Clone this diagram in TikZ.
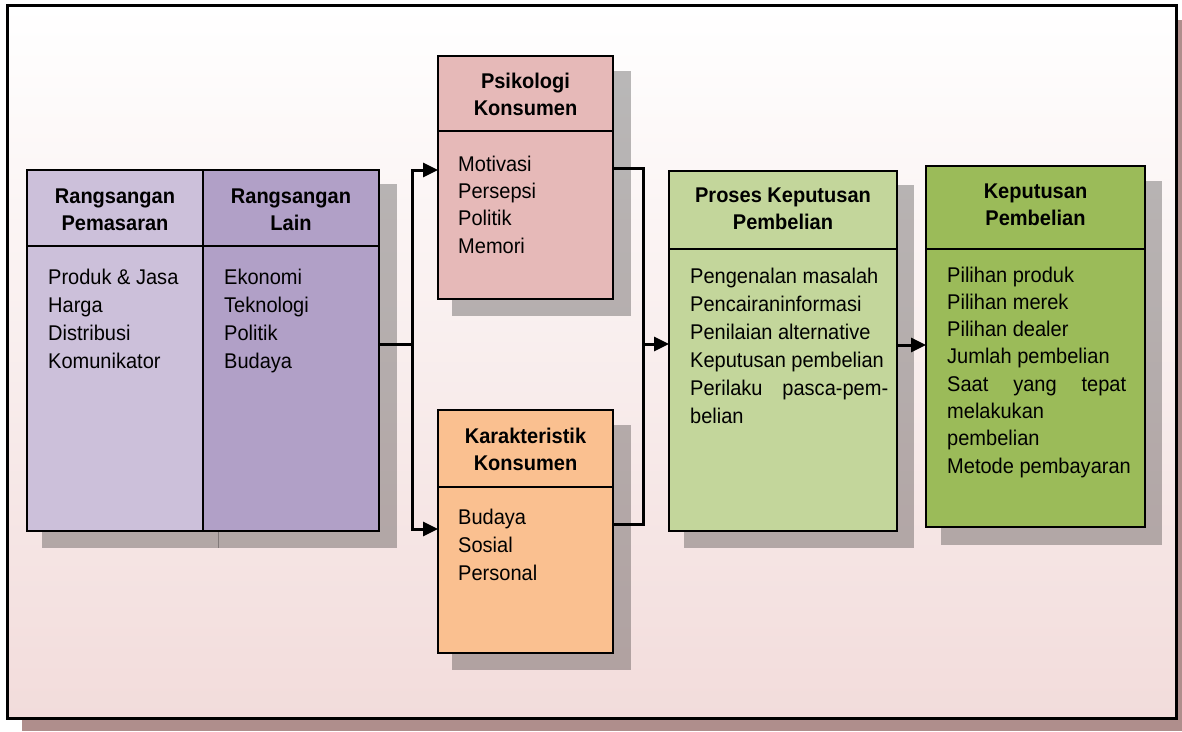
\documentclass[tikz,border=0pt]{standalone}
\usepackage{fontspec}
\setmainfont{Liberation Sans}[FakeStretch=0.94]
\usetikzlibrary{arrows.meta,calc}
\definecolor{pemcol}{HTML}{CCC0DA}
\definecolor{laincol}{HTML}{B1A0C7}
\definecolor{psicol}{HTML}{E6B9B8}
\definecolor{karcol}{HTML}{FAC090}
\definecolor{procol}{HTML}{C3D69B}
\definecolor{kepcol}{HTML}{9BBB59}
\definecolor{frameshadow}{HTML}{AF8E8C}
\definecolor{bgpink}{HTML}{F2DCDB}
\definecolor{bgmid}{HTML}{F9F0F0}
\begin{document}
\begin{tikzpicture}[x=1pt,y=-1pt,
  box/.style={draw=black, line width=2pt, inner sep=0pt, outer sep=0pt, anchor=north west},
  shad/.style={fill=black, fill opacity=0.27},
  divline/.style={draw=black, line width=2pt},
  conn/.style={draw=black, line width=3pt},
  arr/.style={conn, -{Triangle[length=15pt,width=14pt]}},
  head/.style={anchor=base, inner sep=0pt, font=\bfseries\fontsize{21.3}{27}\selectfont},
  body/.style={anchor=base west, inner sep=0pt, font=\fontsize{21.3}{28}\selectfont}]
\useasboundingbox (0,0) rectangle (1182,731);
% frame
\fill[frameshadow] (22,20) rectangle (1182,731);
\shade[top color=white, middle color=bgmid, bottom color=bgpink] (7,5) rectangle (1176,718);
\draw[line width=3pt] (7,5) rectangle (1176,718);
% shadows
\fill[shad] (42,184) rectangle (219,548);
\fill[shad] (218,184) rectangle (397,548);
\fill[shad] (452,71) rectangle (631,316);
\fill[shad] (452,425) rectangle (631,670);
\fill[shad] (684,185) rectangle (914,548);
\fill[shad] (941,181) rectangle (1162,545);
% boxes
\node[box, fill=pemcol, minimum width=176pt, minimum height=361pt] (pem) at (27,170) {};
\node[box, fill=laincol, minimum width=176pt, minimum height=361pt] (lain) at (203,170) {};
\node[box, fill=psicol, minimum width=175pt, minimum height=243pt] (psi) at (438,56) {};
\node[box, fill=karcol, minimum width=175pt, minimum height=243pt] (kar) at (438,410) {};
\node[box, fill=procol, minimum width=228pt, minimum height=360pt] (pro) at (669,171) {};
\node[box, fill=kepcol, minimum width=219pt, minimum height=361pt] (kep) at (926,166) {};
% dividers
\draw[divline] (27,246) -- (379,246);
\draw[divline] (203,170) -- (203,531);
\draw[divline] (438,131) -- (613,131);
\draw[divline] (438,487) -- (613,487);
\draw[divline] (669,249) -- (897,249);
\draw[divline] (926,249) -- (1145,249);
% headers
\node[head] (hpem) at (115,203) {\parbox[t]{170pt}{\centering Rangsangan\\Pemasaran}};
\node[head] (hlain) at (291,203) {\parbox[t]{170pt}{\centering Rangsangan\\Lain}};
\node[head] (hpsi) at (525.5,88) {\parbox[t]{170pt}{\centering Psikologi\\Konsumen}};
\node[head] (hkar) at (525.5,443) {\parbox[t]{170pt}{\centering Karakteristik\\Konsumen}};
\node[head] (hpro) at (783,202) {\parbox[t]{220pt}{\centering Proses Keputusan\\Pembelian}};
\node[head] (hkep) at (1035.5,198) {\parbox[t]{210pt}{\centering Keputusan\\Pembelian}};
% bodies
\node[body] (bpem) at (48,284) {\parbox[t]{150pt}{Produk \& Jasa\\Harga\\Distribusi\\Komunikator}};
\node[body] (blain) at (224,284) {\parbox[t]{150pt}{Ekonomi\\Teknologi\\Politik\\Budaya}};
\node[body] (bpsi) at (458,171) {\parbox[t]{150pt}{\fontsize{21.3}{27.4}\selectfont Motivasi\\Persepsi\\Politik\\Memori}};
\node[body] (bkar) at (458,524) {\parbox[t]{150pt}{Budaya\\Sosial\\Personal}};
\node[body] (bpro) at (690,283) {\parbox[t]{205pt}{Pengenalan masalah\\Pencairaninformasi\\Penilaian alternative\\Keputusan pembelian\\\hbox to 198pt{Perilaku\hfill pasca-pem-}\\belian}};
\node[body] (bkep) at (947,282) {\parbox[t]{190pt}{\fontsize{21.3}{27.3}\selectfont Pilihan produk\\Pilihan merek\\Pilihan dealer\\Jumlah pembelian\\\hbox to 179pt{Saat\hfill yang\hfill tepat}\\melakukan\\pembelian\\Metode pembayaran}};
% connectors
\coordinate (jl) at (412,344);
\coordinate (jr) at (643,344);
\draw[conn] (lain.east |- jl) -- (jl);
\draw[arr] (jl) |- ([yshift=-114pt]psi.north west);
\draw[arr] (jl) |- ([yshift=-119pt]kar.north west);
\draw[conn] ([yshift=-112pt]psi.north east) -| (jr);
\draw[conn] ([yshift=-114pt]kar.north east) -| (jr);
\draw[arr] (jr) -- (pro.west |- jr);
\draw[arr] ([yshift=-174pt]pro.north east) -- ([yshift=-174pt]pro.north east -| kep.west);
\end{tikzpicture}
\end{document}
